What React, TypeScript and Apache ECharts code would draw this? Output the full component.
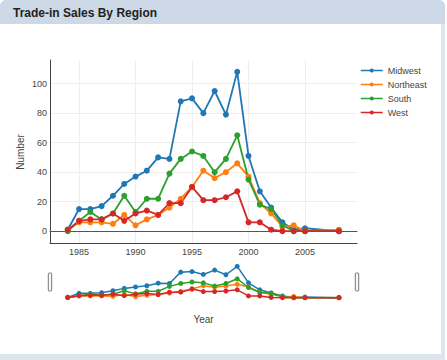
import React, { useEffect, useRef } from "react";
import * as echarts from "echarts";

const years = [1984, 1985, 1986, 1987, 1988, 1989, 1990, 1991, 1992, 1993, 1994, 1995, 1996, 1997, 1998, 1999, 2000, 2001, 2002, 2003, 2004, 2005, 2008];
const midwest = [1, 15, 15, 17, 24, 32, 37, 41, 50, 49, 88, 90, 80, 95, 79, 108, 51, 27, 16, 6, 1, 2, 0];
const northeast = [1, 6, 6, 6, 5, 11, 4, 8, 11, 16, 22, 30, 41, 36, 40, 46, 37, 19, 12, 3, 4, 0, 1];
const south = [0, 7, 13, 8, 12, 24, 13, 22, 22, 39, 49, 54, 51, 40, 49, 65, 35, 18, 15, 4, 0, 0, 0];
const west = [1, 7, 8, 8, 12, 7, 12, 14, 11, 19, 19, 30, 21, 21, 23, 27, 6, 6, 1, 0, 0, 0, 0];

const seriesNames = ["Midwest", "Northeast", "South", "West"];
const seriesValues = [midwest, northeast, south, west];
const colors = ["#1f77b4", "#ff7f0e", "#2ca02c", "#d62728"];

const xMin = 1982.43;
const xMax = 2009.6;
const yMin = -8;
const yMax = 116;

const FONT = "Liberation Sans, Arial, sans-serif";

export default function App() {
  const ref = useRef<HTMLDivElement>(null);

  useEffect(() => {
    if (!ref.current) return;
    const chart = echarts.init(ref.current, undefined, { renderer: "svg" });

    const mainSeries = seriesNames.map((name, i) => ({
      name,
      type: "line",
      xAxisIndex: 0,
      yAxisIndex: 0,
      data: years.map((y, j) => [y, seriesValues[i][j]]),
      symbol: "circle",
      symbolSize: 6,
      showSymbol: true,
      itemStyle: { color: colors[i] },
      lineStyle: { color: colors[i], width: 1.8 },
      emphasis: { disabled: true },
    }));
    const sliderSeries = seriesNames.map((name, i) => ({
      name,
      type: "line",
      xAxisIndex: 1,
      yAxisIndex: 1,
      data: years.map((y, j) => [y, seriesValues[i][j]]),
      symbol: "circle",
      symbolSize: 5,
      showSymbol: true,
      itemStyle: { color: colors[i] },
      lineStyle: { color: colors[i], width: 1.5 },
      emphasis: { disabled: true },
    }));

    chart.setOption({
      animation: false,
      backgroundColor: "transparent",
      textStyle: { fontFamily: FONT },
      legend: {
        data: seriesNames,
        orient: "vertical",
        left: 360,
        top: 66,
        padding: 0,
        itemWidth: 22,
        itemHeight: 5,
        itemGap: 5,
        lineStyle: { width: 1.5 },
        textStyle: { color: "#444", fontSize: 9, fontFamily: FONT },
      },
      grid: [
        { left: 50, top: 60, width: 307, height: 183 },
        { left: 50, top: 264, width: 307, height: 36 },
      ],
      xAxis: [
        {
          type: "value",
          gridIndex: 0,
          min: xMin,
          max: xMax,
          minInterval: 5,
          maxInterval: 5,
          axisLine: { onZero: false, lineStyle: { color: "#444", width: 1 } },
          axisTick: { show: false },
          axisLabel: {
            color: "#444",
            fontSize: 9,
            margin: 4,
            showMinLabel: false,
            showMaxLabel: false,
            fontFamily: FONT,
            formatter: (v: number) => String(Math.round(v)),
          },
          splitLine: { show: true, showMinLine: false, showMaxLine: false, lineStyle: { color: "#eee" } },
        },
        {
          type: "value",
          gridIndex: 1,
          min: xMin,
          max: xMax,
          show: false,
        },
        {
          type: "value",
          gridIndex: 0,
          min: xMin,
          max: xMax,
          position: "bottom",
          axisLine: { show: true, onZero: true, lineStyle: { color: "#555", width: 1 } },
          axisTick: { show: false },
          axisLabel: { show: false },
          splitLine: { show: false },
        },
      ],
      yAxis: [
        {
          type: "value",
          gridIndex: 0,
          min: yMin,
          max: yMax,
          minInterval: 20,
          maxInterval: 20,
          axisLine: { show: true, lineStyle: { color: "#444", width: 1 } },
          axisTick: { show: false },
          axisLabel: {
            color: "#444",
            fontSize: 9,
            margin: 3,
            showMinLabel: false,
            showMaxLabel: false,
            fontFamily: FONT,
          },
          splitLine: { show: true, showMinLine: false, showMaxLine: false, lineStyle: { color: "#eee" } },
        },
        {
          type: "value",
          gridIndex: 1,
          min: yMin,
          max: yMax,
          show: false,
        },
      ],
      graphic: [
        {
          type: "text",
          x: 20,
          y: 152,
          rotation: Math.PI / 2,
          style: {
            text: "Number",
            fill: "#444",
            fontSize: 10,
            fontFamily: FONT,
            align: "center",
            verticalAlign: "middle",
          },
        },
        {
          type: "text",
          x: 203.5,
          y: 319,
          style: {
            text: "Year",
            fill: "#444",
            fontSize: 10,
            fontFamily: FONT,
            align: "center",
            verticalAlign: "middle",
          },
        },
        {
          type: "rect",
          shape: { x: 48.3, y: 273, width: 3.4, height: 18, r: 1 },
          style: { fill: "#f8f8f8", stroke: "#777", lineWidth: 1 },
          z: 10,
        },
        {
          type: "rect",
          shape: { x: 355.3, y: 273, width: 3.4, height: 18, r: 1 },
          style: { fill: "#f8f8f8", stroke: "#777", lineWidth: 1 },
          z: 10,
        },
      ],
      series: [...mainSeries, ...sliderSeries],
    });

    return () => {
      chart.dispose();
    };
  }, []);

  return (
    <div style={{ position: "fixed", left: 0, top: 0, width: 447, height: 360, background: "#ffffff", overflow: "hidden" }}>
      <div
        style={{
          position: "absolute",
          left: 0,
          top: 0,
          width: 445,
          height: 360,
          background: "#dde5ee",
          borderTopLeftRadius: 6,
          borderTopRightRadius: 6,
        }}
      />
      <div
        style={{
          position: "absolute",
          left: 0,
          top: 0,
          width: 445,
          height: 24,
          background: "#cdd9e6",
          borderTopLeftRadius: 6,
          borderTopRightRadius: 6,
          boxSizing: "border-box",
          paddingLeft: 13,
          lineHeight: "26px",
          fontFamily: FONT,
          fontWeight: "bold",
          fontSize: 12,
          color: "#222",
        }}
      >
        Trade-in Sales By Region
      </div>
      <div style={{ position: "absolute", left: 0, top: 24, width: 441, height: 330, background: "#ffffff" }} />
      <div ref={ref} style={{ position: "absolute", left: 0, top: 0, width: 447, height: 360 }} />
    </div>
  );
}
